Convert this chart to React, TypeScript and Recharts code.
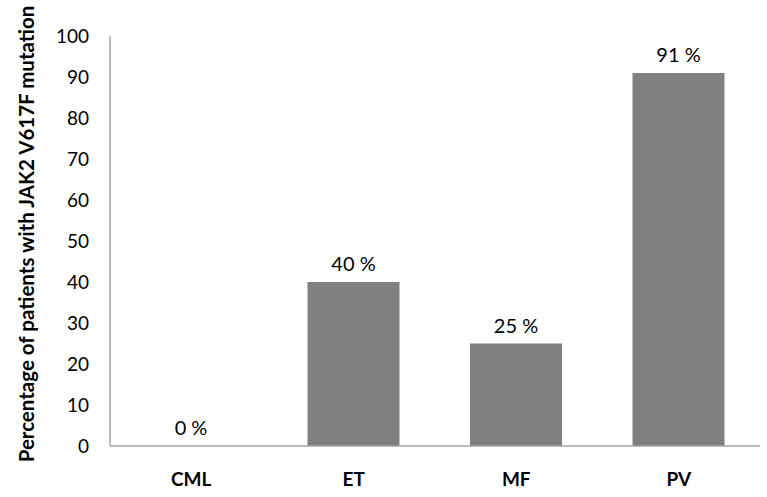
import React from 'react';
import { BarChart, Bar, XAxis, YAxis, LabelList, Rectangle } from 'recharts';

const categories = ['CML', 'ET', 'MF', 'PV'];
const mutationPct = [0, 40, 25, 91];
const yTicks = [0, 10, 20, 30, 40, 50, 60, 70, 80, 90, 100];

const data = categories.map((name, i) => ({ name, value: mutationPct[i] }));

const FONT = 'Lato, "Open Sans", sans-serif';

function YTitle(props: any) {
  const { viewBox } = props;
  const cx = 26;
  const cy = viewBox.y + viewBox.height / 2 - 7;
  return (
    <text
      x={cx}
      y={cy}
      transform={`rotate(-90, ${cx}, ${cy})`}
      textAnchor="middle"
      dominantBaseline="central"
      fontFamily={FONT}
      fontWeight={700}
      fontSize={20.5}
      fill="#000"
    >
      Percentage of patients with JAK2 V617F mutation
    </text>
  );
}

function ValueLabel(props: any) {
  const { x, y, width, height, value } = props;
  // zero-value bars get a 1px stub; put the label at the axis line
  const top = Number(value) === 0 ? Number(y) + Number(height) : Number(y);
  return (
    <text
      x={Number(x) + Number(width) / 2}
      y={top - 11}
      textAnchor="middle"
      fontFamily={FONT}
      fontSize={20}
      fill="#000"
    >
      {`${value} %`}
    </text>
  );
}

function BarShape(props: any) {
  if (!props.value) return <g />;
  return <Rectangle {...props} />;
}

export default function App() {
  return (
    <div style={{ position: 'absolute', left: 0, top: 0, background: '#fff' }}>
      <BarChart
        width={767}
        height={497}
        data={data}
        margin={{ top: 36, right: 7, left: 0, bottom: 0 }}
        barSize={92}
      >
        <XAxis
          dataKey="name"
          height={51}
          axisLine={{ stroke: '#a6a6a6', strokeWidth: 1.5 }}
          tickLine={false}
          tickMargin={21}
          tick={{ fontFamily: FONT, fontWeight: 700, fontSize: 19, fill: '#000' }}
        />
        <YAxis
          width={110}
          domain={[0, 100]}
          ticks={yTicks}
          interval={0}
          axisLine={{ stroke: '#a6a6a6', strokeWidth: 1.5 }}
          tickLine={false}
          tickMargin={15}
          tick={{ fontFamily: FONT, fontSize: 19, fill: '#000' }}
          label={<YTitle />}
        />
        <Bar
          dataKey="value"
          fill="#808080"
          minPointSize={1}
          shape={<BarShape />}
          isAnimationActive={false}
        >
          <LabelList dataKey="value" content={<ValueLabel />} />
        </Bar>
      </BarChart>
    </div>
  );
}
